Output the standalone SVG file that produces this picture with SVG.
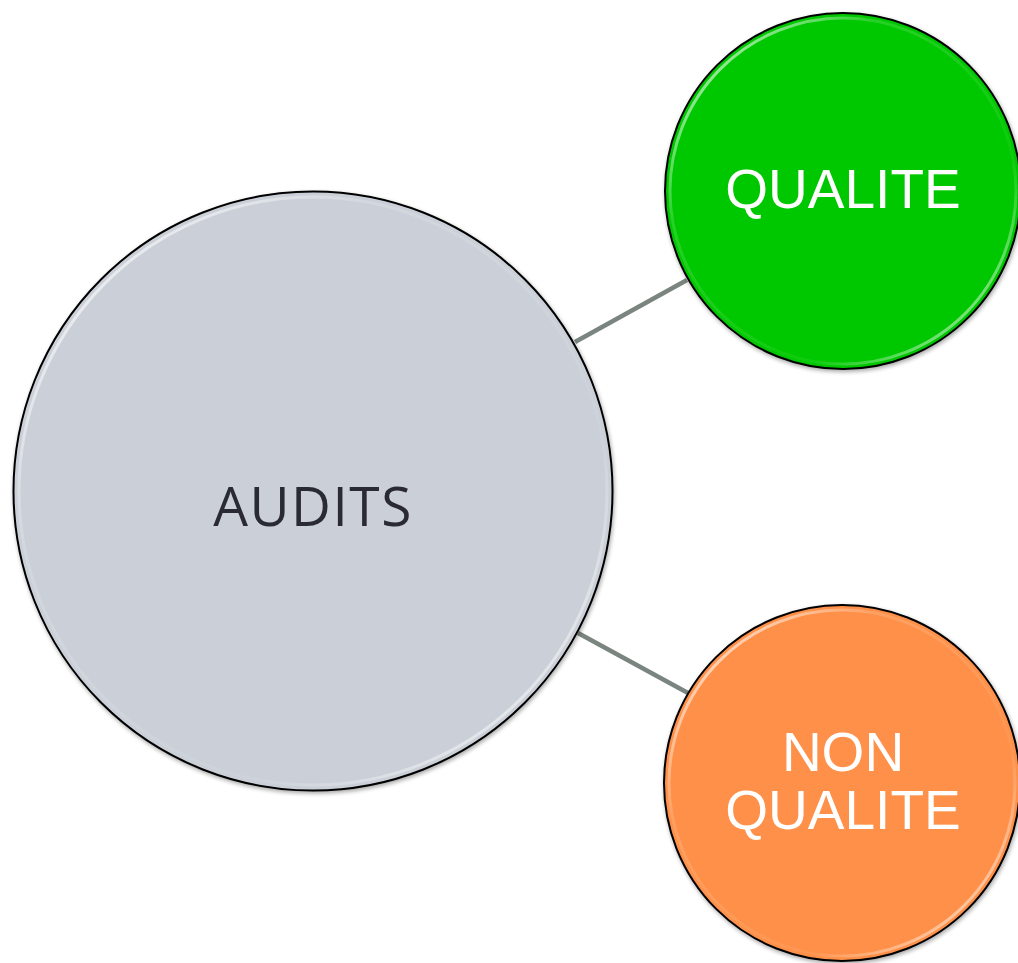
<svg xmlns="http://www.w3.org/2000/svg" width="1018" height="963" viewBox="0 0 1018 963">
<style>
.edge{stroke:#7b8580;stroke-width:4.5;fill:none}
.rim{fill:none;stroke:#000;stroke-width:2}
.lbl{fill:#fff;font-family:"Liberation Sans",Arial,sans-serif;font-size:55px;text-anchor:middle}
.main{fill:#2b2b35;font-family:"Open Sans","DejaVu Sans",sans-serif;font-size:55px;letter-spacing:1.5px;text-anchor:middle}
</style>
<defs>
<linearGradient id="hl" x1="0" y1="0" x2="1" y2="1">
<stop offset="0" stop-color="#fff" stop-opacity="0.95"/>
<stop offset="0.3" stop-color="#fff" stop-opacity="0.15"/>
<stop offset="0.7" stop-color="#fff" stop-opacity="0.05"/>
<stop offset="1" stop-color="#fff" stop-opacity="0.85"/>
</linearGradient>
<filter id="sh" x="-10%" y="-10%" width="120%" height="120%">
<feGaussianBlur in="SourceAlpha" stdDeviation="2"/>
<feOffset dx="1" dy="2"/>
<feComponentTransfer><feFuncA type="linear" slope="0.35"/></feComponentTransfer>
<feMerge><feMergeNode/><feMergeNode in="SourceGraphic"/></feMerge>
</filter>
</defs>
<g id="connectors">
<line class="edge" x1="575" y1="342" x2="687" y2="280"/>
<line class="edge" x1="578" y1="633" x2="688" y2="693"/>
</g>
<g id="audits" filter="url(#sh)">
<circle cx="313" cy="491" r="299.5" fill="#cbd0d8"/>
<circle cx="313" cy="491" r="294" fill="none" stroke="url(#hl)" stroke-width="3"/>
<circle class="rim" cx="313" cy="491" r="299.5"/>
<text class="main" x="313" y="526">AUDITS</text>
</g>
<g id="qualite" filter="url(#sh)">
<circle cx="843" cy="191" r="178" fill="#00c800"/>
<circle cx="843" cy="191" r="173" fill="none" stroke="url(#hl)" stroke-width="3"/>
<circle class="rim" cx="843" cy="191" r="178"/>
<text class="lbl" x="843" y="208">QUALITE</text>
</g>
<g id="non-qualite" filter="url(#sh)">
<circle cx="842" cy="783" r="178" fill="#ff9048"/>
<circle cx="842" cy="783" r="173" fill="none" stroke="url(#hl)" stroke-width="3"/>
<circle class="rim" cx="842" cy="783" r="178"/>
<text class="lbl" x="843" y="771">NON</text>
<text class="lbl" x="843" y="829">QUALITE</text>
</g>
</svg>
